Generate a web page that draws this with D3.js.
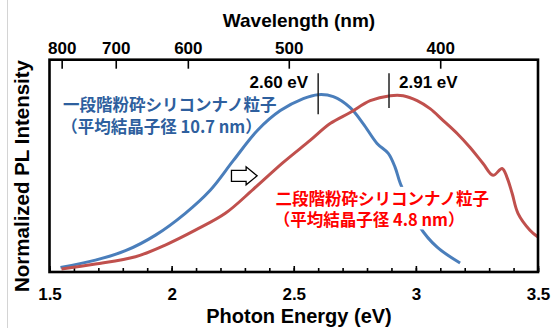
<!DOCTYPE html>
<html>
<head>
<meta charset="utf-8">
<script src="https://cdn.jsdelivr.net/npm/d3@7"></script>
<style>
  body { margin: 0; background: #fff; }
  svg text { font-family: "Liberation Sans", Arial, sans-serif; font-weight: bold; }
  .jp { font-family: "Noto Sans CJK JP", sans-serif; }
</style>
</head>
<body>
<div id="chart"></div>
<script>
// data (photon energy in eV, normalized intensity)
var blueEnergy = [1.545, 1.688, 1.811, 1.934, 2.056, 2.158, 2.253, 2.351, 2.445, 2.539, 2.600, 2.662, 2.731, 2.784, 2.841, 2.887, 2.915, 2.936, 2.977, 3.017, 3.087, 3.181];
var blueValue  = [0.026, 0.067, 0.120, 0.208, 0.331, 0.461, 0.629, 0.798, 0.910, 0.978, 1.000, 0.989, 0.927, 0.837, 0.725, 0.669, 0.590, 0.500, 0.376, 0.253, 0.140, 0.051];
var redEnergy  = [1.549, 1.688, 1.852, 1.974, 2.097, 2.220, 2.334, 2.457, 2.567, 2.649, 2.731, 2.813, 2.895, 2.948, 3.005, 3.058, 3.112, 3.169, 3.222, 3.275, 3.316, 3.353, 3.373, 3.394, 3.418, 3.467, 3.500];
var redValue   = [0.017, 0.045, 0.086, 0.152, 0.236, 0.331, 0.466, 0.618, 0.742, 0.837, 0.899, 0.966, 0.994, 0.994, 0.966, 0.921, 0.854, 0.781, 0.702, 0.612, 0.545, 0.584, 0.534, 0.444, 0.331, 0.236, 0.197];

var energyTicks = [1.5, 2, 2.5, 3, 3.5];
var wavelengthTicks = [800, 700, 600, 500, 400];
var peakEnergy = [2.60, 2.89];
var peakLabels = ["2.60 eV", "2.91 eV"];
var blueLabel = ["一段階粉砕シリコンナノ粒子", "（平均結晶子径 10.7 nm）"];
var redLabel = ["二段階粉砕シリコンナノ粒子", "（平均結晶子径 4.8 nm）"];

var W = 555, H = 328;
var margin = {top: 59.7, right: 17, bottom: 56, left: 49.5};
var width = W - margin.left - margin.right;
var height = H - margin.top - margin.bottom;

var svg = d3.select("#chart")
  .append("svg")
    .attr("width", W)
    .attr("height", H);

// faint page edge on the left
svg.append("line")
  .attr("x1", 7.5).attr("x2", 7.5)
  .attr("y1", 0).attr("y2", H)
  .attr("stroke", "#d4d4d4")
  .attr("stroke-width", 1);

var g = svg.append("g")
  .attr("transform", "translate(" + margin.left + "," + margin.top + ")");

var x = d3.scaleLinear().domain([1.5, 3.5]).range([0, width]);
var y = d3.scaleLinear().domain([0, 1.197]).range([height, 0]);

// bottom axis, ticks inward
var minor = d3.range(15, 36).map(function(d) { return d / 10; });
g.append("g")
  .attr("class", "minor")
  .attr("transform", "translate(0," + height + ")")
  .call(d3.axisBottom(x).tickValues(minor).tickSizeInner(-4).tickSizeOuter(0).tickFormat(""));

g.append("g")
  .attr("class", "xAxis")
  .attr("transform", "translate(0," + height + ")")
  .call(d3.axisBottom(x).tickValues(energyTicks).tickSizeInner(-6).tickSizeOuter(0).tickPadding(16)
    .tickFormat(function(d) { return d3.format("")(d); }));

// top axis: wavelength converted to energy
var topAxis = d3.axisTop(x)
  .tickValues(wavelengthTicks.map(function(l) { return 1239.84 / l; }))
  .tickFormat(function(d, i) { return wavelengthTicks[i]; })
  .tickSizeInner(-9).tickSizeOuter(0).tickPadding(6);
g.append("g")
  .attr("class", "topAxis")
  .call(topAxis);

g.selectAll(".minor path, .xAxis path, .topAxis path").remove();
g.selectAll(".minor line, .xAxis line, .topAxis line")
  .attr("stroke", "#000")
  .attr("stroke-width", 1.6);
g.selectAll(".xAxis text, .topAxis text")
  .attr("fill", "#000")
  .style("font-size", "17px");

// curves
var line = d3.line()
  .curve(d3.curveCatmullRom.alpha(0.5))
  .x(function(d) { return x(d[0]); })
  .y(function(d) { return y(d[1]); });

var blueData = blueEnergy.map(function(e, i) { return [e, blueValue[i]]; });
var redData = redEnergy.map(function(e, i) { return [e, redValue[i]]; });

g.append("path")
  .datum(blueData)
  .attr("fill", "none")
  .attr("stroke", "#4a7ebb")
  .attr("stroke-width", 3)
  .attr("stroke-linejoin", "round")
  .attr("d", line);

g.append("path")
  .datum(redData)
  .attr("fill", "none")
  .attr("stroke", "#c0504d")
  .attr("stroke-width", 3)
  .attr("stroke-linejoin", "round")
  .attr("d", line);

// peak markers
g.selectAll(".peak")
  .data(peakEnergy)
  .enter()
  .append("line")
    .attr("class", "peak")
    .attr("x1", function(d) { return x(d); })
    .attr("x2", function(d) { return x(d); })
    .attr("y1", y(1.12))
    .attr("y2", function(d, i) { return i == 0 ? y(0.89) : y(0.925); })
    .attr("stroke", "#222")
    .attr("stroke-width", 1.5);

g.append("text")
  .attr("x", x(2.60) - 10)
  .attr("y", y(1.035))
  .attr("text-anchor", "end")
  .style("font-size", "17px")
  .text(peakLabels[0]);

g.append("text")
  .attr("x", x(2.89) + 10)
  .attr("y", y(1.035))
  .style("font-size", "17px")
  .text(peakLabels[1]);

// blue label
var bl = g.append("text")
  .attr("class", "jp")
  .attr("fill", "#2e5f9e")
  .style("font-size", "16.5px");
bl.append("tspan").attr("x", x(1.555)).attr("y", y(0.905)).text(blueLabel[0]);
bl.append("tspan").attr("x", x(1.548)).attr("y", y(0.785)).text(blueLabel[1]);

// red label with white box behind it
g.append("rect")
  .attr("x", x(2.415))
  .attr("y", y(0.48))
  .attr("width", x(3.28) - x(2.415))
  .attr("height", y(0.24) - y(0.48))
  .attr("fill", "#fff");

var rl = g.append("text")
  .attr("class", "jp")
  .attr("fill", "#ff0000")
  .style("font-size", "16.5px");
rl.append("tspan").attr("x", x(2.425)).attr("y", y(0.375)).text(redLabel[0]);
rl.append("tspan").attr("x", x(2.418)).attr("y", y(0.257)).text(redLabel[1]);

// hollow arrow
var ax0 = x(2.245), ax1 = x(2.305), ax2 = x(2.35), ay = y(0.542);
g.append("path")
  .attr("d", "M" + ax0 + "," + (ay - 5.5) + "L" + ax1 + "," + (ay - 5.5) + "L" + ax1 + "," + (ay - 9) +
       "L" + ax2 + "," + ay + "L" + ax1 + "," + (ay + 9) + "L" + ax1 + "," + (ay + 5.5) +
       "L" + ax0 + "," + (ay + 5.5) + "Z")
  .attr("fill", "#fff")
  .attr("stroke", "#000")
  .attr("stroke-width", 1.3);

// frame
g.append("rect")
  .attr("x", 0).attr("y", 0)
  .attr("width", width).attr("height", height)
  .attr("fill", "none")
  .attr("stroke", "#000")
  .attr("stroke-width", 2.6);

//axes labels
svg.append("text")
  .attr("x", 299)
  .attr("y", 27)
  .attr("text-anchor", "middle")
  .style("font-size", "19px")
  .text("Wavelength (nm)");

svg.append("text")
  .attr("x", 299)
  .attr("y", 322.5)
  .attr("text-anchor", "middle")
  .style("font-size", "20px")
  .text("Photon Energy (eV)");

svg.append("text")
  .attr("transform", "translate(29," + 176 + ") rotate(-90)")
  .attr("text-anchor", "middle")
  .style("font-size", "20.5px")
  .text("Normalized PL Intensity");
</script>
</body>
</html>
